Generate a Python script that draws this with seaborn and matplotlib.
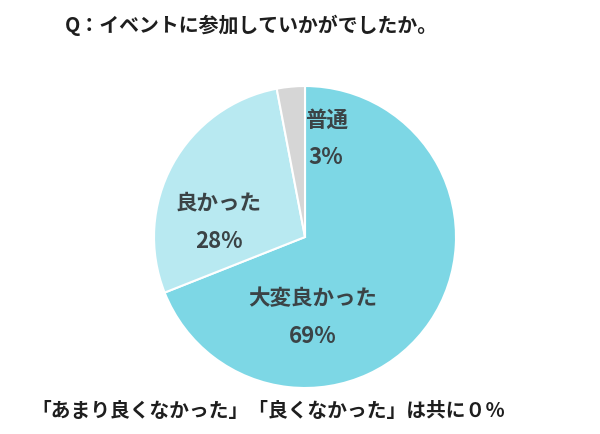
import matplotlib
matplotlib.use("Agg")
import matplotlib.pyplot as plt
import seaborn as sns

# answers, clockwise from 12 o'clock
labels = ["大変良かった", "良かった", "普通"]
shares = [69, 28, 3]
colors = ["#7dd7e5", "#b8e9f1", "#d6d6d6"]

title = "Q：イベントに参加していかがでしたか。"
note = "「あまり良くなかった」「良くなかった」は共に０％"

sns.set_theme(style="white")
plt.rcParams['font.family'] = ['Noto Sans CJK JP', 'DejaVu Sans']

fig = plt.figure(figsize=(6, 4.35), dpi=100)
fig.patch.set_facecolor("white")

# square axes holding the pie
ax = fig.add_axes([0.2567, 0.1057, 0.5033, 0.6943])
wedges, _ = ax.pie(shares, colors=colors, startangle=90, counterclock=False,
                   wedgeprops=dict(edgecolor="white", linewidth=1.5))
ax.set_xlim(-1, 1)
ax.set_ylim(-1, 1)
ax.set_aspect("equal")
ax.axis("off")

# label block centres (data units, radius = 1)
spots = [(0.05, -0.53), (-0.57, 0.10), (0.14, 0.65)]
txt_col = "#3b4346"
for lab, val, (x, y) in zip(labels, shares, spots):
    ax.text(x, y + 0.13, lab, ha="center", va="center", fontsize=15.5,
            fontweight="bold", color=txt_col)
    ax.text(x, y - 0.12, f"{val}%", ha="center", va="center", fontsize=16,
            fontweight="bold", color=txt_col)

fig.text(0.419, 1 - 25 / 435, title, ha="center", va="center", fontsize=14.3,
         fontweight="bold", color="#1e1e1e")
fig.text(0.4475, 1 - 412 / 435, note, ha="center", va="center", fontsize=14.2,
         fontweight="bold", color="#1e1e1e")

fig.savefig("out.png", dpi=100, facecolor="white")
